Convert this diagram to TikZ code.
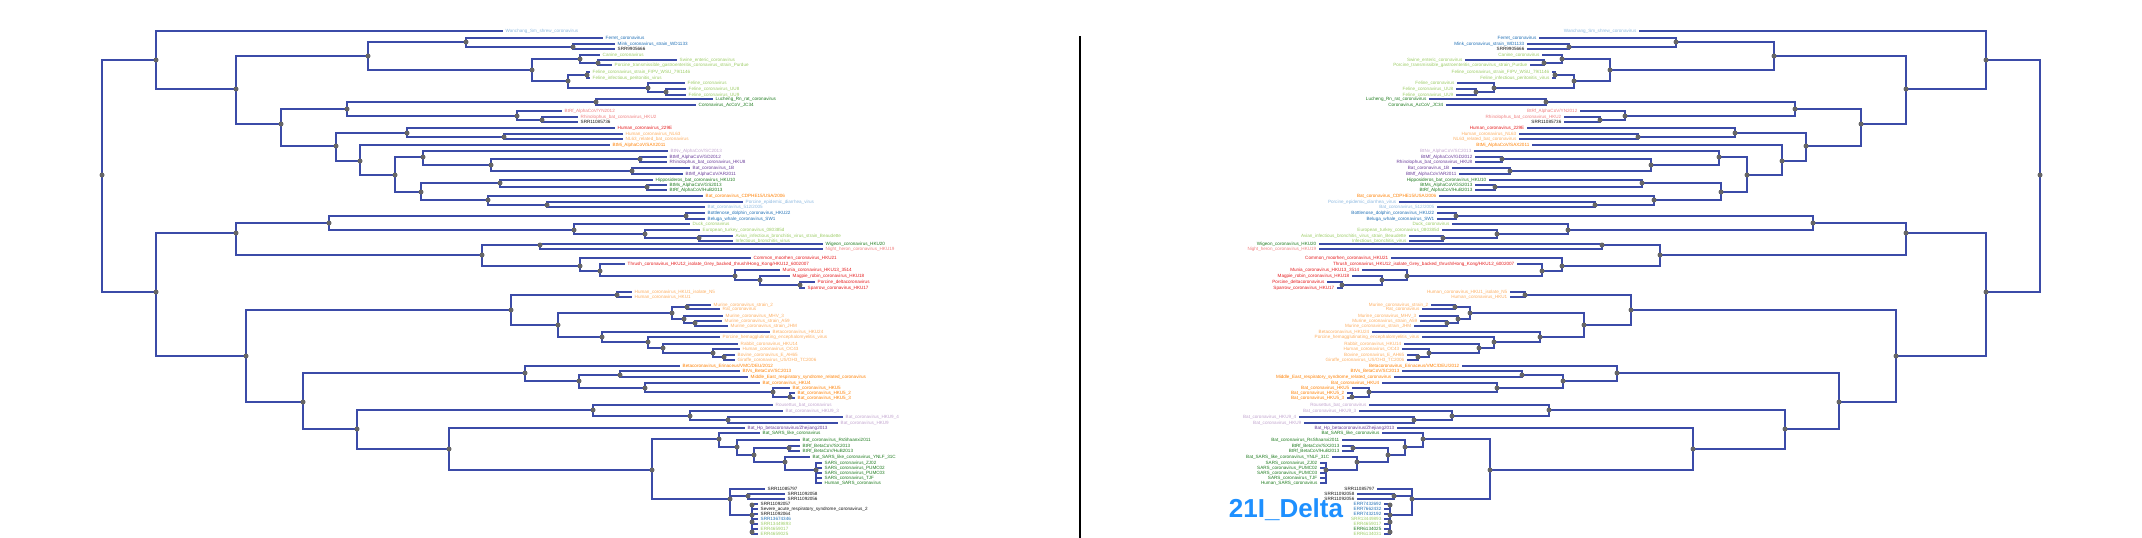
\documentclass[tikz,border=0pt]{standalone}
\usepackage{fontspec}
\setmainfont{Liberation Sans}
\setsansfont{Liberation Sans}
\usetikzlibrary{positioning}

\definecolor{treeblue}{HTML}{3B4BA8}
\definecolor{knotgray}{HTML}{666666}
\definecolor{lb}{HTML}{8DB9E0}
\definecolor{bl}{HTML}{1F6FB5}
\definecolor{bk}{HTML}{111111}
\definecolor{lg}{HTML}{9CCC65}
\definecolor{dg}{HTML}{1E7B1E}
\definecolor{pk}{HTML}{F08080}
\definecolor{rd}{HTML}{E41A1C}
\definecolor{lo}{HTML}{FDAE61}
\definecolor{or}{HTML}{FF7F00}
\definecolor{lp}{HTML}{C2A5CF}
\definecolor{pu}{HTML}{6A3D9A}
\definecolor{deltablue}{HTML}{1E90FF}

\newcommand\tipfont{\fontsize{4.6}{5}\selectfont}

% internal nodes: name/x/y/parent
\def\innerlist{r/102/175/r, a/156/60/r, b/156/292/r,
 a2/236/89/a, f0/368/56/a2, fe/466/42/f0, fm/573/47/fe,
 c0/532/70/f0, c1/580/59/c0, c1b/598/63/c1, c2/568/81/c0, c2a/587/75/c2, c2b/648/88/c2, c2c/666/92/c2b,
 a3/281/124/a2, l0/347/109/a3, l1/596/102/l0, l2/517/116/l0, l3/542/120/l2,
 a4/336/146/a3, h0/407/133/a4, h1/504/137/h0,
 a5/360/161/a4, a6/395/175/a5, m0/423/157/a6, m1/491/165/m0, m2/640/159/m1, m3/632/171/m1,
 a7/421/192/a6, p0/500/183/a7, p1/647/187/p0, p2/488/200/a7, p3/547/205/p2,
 g0/236/233/b, g1/329/223/g0, g2/686/216/g1, g3/574/230/g1, g4/645/234/g3, g5/699/238/g4,
 d0/482/255/g0, d1/540/245/d0, d2/580/266/d0, d3/600/271/d2, d4/735/276/d3, d5/760/280/d4, d6/800/285/d5,
 bb/246/356/b, e0/511/310/bb, e1/617/295/e0, e2/558/325/e0, e3/672/313/e2, e4/687/307/e3,
 e5/684/319/e3, e6/695/323/e5, e7/602/337/e2, e8/648/342/e7, e9/663/348/e8, e10/713/353/e9, e11/724/357/e10,
 mr/303/402/bb, s0/525/373/mr, s1/579/381/s0, s2/620/375/s1, s3/645/388/s1, s4/773/392/s3, s5/790/397/s4,
 k0/357/429/mr, k1/593/410/k0, k2/690/416/k1, k3/728/420/k2,
 k4/449/449/k0, k5/652/470/k4, q0/719/439/k5, q1/737/447/q0, q2/754/455/q1, q3/789/448/q2, q4/785/462/q2, q5/816/470/q4,
 z0/730/499/k5, z1/748/496/z0, z2/752/515/z0}

% leaves: name/x/y/colour/parent/text
\def\leaflist{1/503/31/lb/a/{Wanchang\_Sm\_shrew\_coronavirus},
 2/603/38/bl/fe/{Ferret\_coronavirus},
 3/615/44/bl/fm/{Mink\_coronavirus\_strain\_WD1133},
 4/615/49/bk/fm/{SRR9905666},
 5/600/55/lg/c1/{Canine\_coronavirus},
 6/677/60/lg/c1b/{Swine\_enteric\_coronavirus},
 7/612/65/lg/c1b/{Porcine\_transmissible\_gastroenteritis\_coronavirus\_strain\_Purdue},
 8/590/72/lg/c2a/{Feline\_coronavirus\_strain\_FIPV\_WSU\_79/1146},
 9/590/78/lg/c2a/{Feline\_infectious\_peritonitis\_virus},
 10/685/83/lg/c2b/{Feline\_coronavirus},
 11/686/89/lg/c2c/{Feline\_coronavirus\_UU8},
 12/686/95/lg/c2c/{Feline\_coronavirus\_UU9},
 13/713/99/dg/l1/{Lucheng\_Rn\_rat\_coronavirus},
 14/696/105/dg/l1/{Coronavirus\_AcCoV\_JC34},
 15/562/111/pk/l2/{BtRf\_AlphaCoV/YN2012},
 16/578/117/pk/l3/{Rhinolophus\_bat\_coronavirus\_HKU2},
 17/578/122/bk/l3/{SRR11085736},
 18/615/128/rd/h0/{Human\_coronavirus\_229E},
 19/623/134/lo/h1/{Human\_coronavirus\_NL63},
 20/623/139/lo/h1/{NL63\_related\_bat\_coronavirus},
 21/610/145/or/a5/{BtMi\_AlphaCoV/SAX2011},
 22/668/151/lp/m0/{BtNv\_AlphaCoV/SC2013},
 23/667/157/pu/m2/{BtMf\_AlphaCoV/GD2012},
 24/667/162/pu/m2/{Rhinolophus\_bat\_coronavirus\_HKU8},
 25/690/168/pu/m3/{Bat\_coronavirus\_1B},
 26/683/174/pu/m3/{BtMf\_AlphaCoV/AR2011},
 27/653/180/dg/p0/{Hipposideros\_bat\_coronavirus\_HKU10},
 28/667/185/dg/p1/{BtMs\_AlphaCoV/GS2013},
 29/667/190/dg/p1/{BtRf\_AlphaCoV/HuB2013},
 30/703/196/or/p2/{Bat\_coronavirus\_CDPHE15/USA/2006},
 31/743/202/lb/p3/{Porcine\_epidemic\_diarrhea\_virus},
 32/705/207/lb/p3/{Bat\_coronavirus\_512/2005},
 33/705/213/bl/g2/{Bottlenose\_dolphin\_coronavirus\_HKU22},
 34/705/219/bl/g2/{Beluga\_whale\_coronavirus\_SW1},
 35/690/224/lg/g3/{Duck\_coronavirus},
 36/700/230/lg/g4/{European\_turkey\_coronavirus\_080385d},
 37/733/236/lg/g5/{Avian\_infectious\_bronchitis\_virus\_strain\_Beaudette},
 38/733/241/lg/g5/{Infectious\_bronchitis\_virus},
 39/823/244/dg/d1/{Wigeon\_coronavirus\_HKU20},
 40/823/249/pk/d1/{Night\_heron\_coronavirus\_HKU19},
 41/751/258/rd/d2/{Common\_moorhen\_coronavirus\_HKU21},
 42/625/264/rd/d3/{Thrush\_coronavirus\_HKU12\_isolate\_Grey\_backed\_thrush/Hong\_Kong/HKU12\_6002007},
 43/780/270/rd/d4/{Munia\_coronavirus\_HKU13\_3514},
 44/790/276/rd/d5/{Magpie\_robin\_coronavirus\_HKU18},
 45/815/282/rd/d6/{Porcine\_deltacoronavirus},
 46/805/288/rd/d6/{Sparrow\_coronavirus\_HKU17},
 47/632/292/lo/e1/{Human\_coronavirus\_HKU1\_isolate\_N5},
 48/632/297/lo/e1/{Human\_coronavirus\_HKU1},
 49/711/305/lo/e4/{Murine\_coronavirus\_strain\_2},
 50/720/309/lo/e4/{Rat\_coronavirus},
 51/723/316/lo/e5/{Murine\_coronavirus\_MHV\_3},
 52/722/321/lo/e6/{Murine\_coronavirus\_strain\_A59},
 53/728/326/lo/e6/{Murine\_coronavirus\_strain\_JHM},
 54/770/332/lo/e7/{Betacoronavirus\_HKU24},
 55/720/337/lo/e8/{Porcine\_hemagglutinating\_encephalomyelitis\_virus},
 56/738/344/lo/e9/{Rabbit\_coronavirus\_HKU14},
 57/740/349/lo/e10/{Human\_coronavirus\_OC43},
 58/735/355/lo/e11/{Bovine\_coronavirus\_E\_AH65},
 59/735/360/lo/e11/{Giraffe\_coronavirus\_US/OH3\_TC2006},
 60/680/366/or/s0/{Betacoronavirus\_Erinaceus/VMC/DEU/2012},
 61/740/371/or/s2/{BtVs\_BetaCoV/SC2013},
 62/748/377/or/s2/{Middle\_East\_respiratory\_syndrome\_related\_coronavirus},
 63/760/383/or/s3/{Bat\_coronavirus\_HKU4},
 64/790/388/or/s4/{Bat\_coronavirus\_HKU5},
 65/795/393/or/s5/{Bat\_coronavirus\_HKU5\_2},
 66/795/398/or/s5/{Bat\_coronavirus\_HKU5\_3},
 67/773/405/lp/k1/{Rousettus\_bat\_coronavirus},
 68/783/411/lp/k2/{Bat\_coronavirus\_HKU9\_3},
 69/843/417/lp/k3/{Bat\_coronavirus\_HKU9\_4},
 70/838/423/lp/k3/{Bat\_coronavirus\_HKU9},
 71/745/428/pu/k4/{Bat\_Hp\_betacoronavirus/Zhejiang2013},
 72/760/433/dg/q0/{Bat\_SARS\_like\_coronavirus},
 73/800/440/dg/q1/{Bat\_coronavirus\_RsShaanxi2011},
 74/800/446/dg/q3/{BtRf\_BetaCoV/SX2013},
 75/800/451/dg/q3/{BtRf\_BetaCoV/HuB2013},
 76/810/457/dg/q4/{Bat\_SARS\_like\_coronavirus\_YNLF\_31C},
 77/822/463/dg/q5/{SARS\_coronavirus\_ZJ02},
 78/822/468/dg/q5/{SARS\_coronavirus\_PUMC02},
 79/822/473/dg/q5/{SARS\_coronavirus\_PUMC03},
 80/822/478/dg/q5/{SARS\_coronavirus\_TJF},
 81/822/483/dg/q5/{Human\_SARS\_coronavirus},
 82/765/489/bk/z0/{SRR11085797},
 83/785/494/bk/z1/{SRR11092058},
 84/785/499/bk/z1/{SRR11092056}}

\tikzset{
  branch/.style={draw=treeblue, line width=1.1pt},
  knot/.style={circle, fill=knotgray, inner sep=0pt, minimum size=5pt},
  tip/.style={font=\tipfont, inner sep=2.5pt}
}

% #1: the tail of the SARS-CoV-2 clade
\newcommand\drawtree[1]{%
  \foreach \n/\x/\y/\p in \innerlist {
    \coordinate (\n) at (\x,\y);
  }
  \foreach \n/\x/\y/\p in \innerlist {
    \draw[branch] (\p) |- (\n);
  }
  \foreach \n/\x/\y/\c/\p/\t in \leaflist {
    \coordinate (t\n) at (\x,\y);
    \draw[branch] (\p) |- (t\n);
    \node[tip, text=\c] at (t\n) {\t};
  }
  \foreach \n/\x/\y/\c/\p/\t in {#1} {
    \coordinate (t\n) at (\x,\y);
    \draw[branch] (\p) |- (t\n);
    \node[tip, text=\c] at (t\n) {\t};
  }
  \foreach \n/\x/\y/\p in \innerlist {
    \node[knot] at (\n) {};
  }
  \foreach \y in {505,522,532} {
    \node[knot] at (752,\y) {};
  }
}

\begin{document}
\begin{tikzpicture}[x=1pt, y=-1pt]
\useasboundingbox (0,0) rectangle (2142,538);

\begin{scope}[tip/.append style={anchor=west}]
  \drawtree{85/758/504/bk/z2/{SRR11092057},
    86/758/509/bk/z2/{Severe\_acute\_respiratory\_syndrome\_coronavirus\_2},
    87/758/514/bk/z2/{SRR11092064},
    88/758/519/bl/z2/{SRR13674346},
    89/758/524/lg/z2/{SRR13449893},
    90/758/529/lg/z2/{ERR4659017},
    91/758/534/lg/z2/{ERR4659025}}
\end{scope}

\begin{scope}[xshift=2142pt, xscale=-1, tip/.append style={anchor=east}]
  \drawtree{85/758/504/bl/z2/{ERR7432692},
    86/758/509/bl/z2/{ERR7662432},
    87/758/514/bl/z2/{ERR7432192},
    88/758/519/lg/z2/{SRR13449893},
    89/758/524/lg/z2/{ERR4659017},
    90/758/529/dg/z2/{ERR6134025},
    91/758/534/lg/z2/{ERR6134031}}
\end{scope}

% divider and clade tag
\coordinate (midtop) at (1080,36);
\coordinate (midbot) at (1080,538);
\draw[black, line width=1.6pt] (midtop) -- (midbot);
\node[font=\sffamily\bfseries\fontsize{26}{26}\selectfont, text=deltablue] (delta) at (1286,510) {21I\_Delta};
\end{tikzpicture}
\end{document}
